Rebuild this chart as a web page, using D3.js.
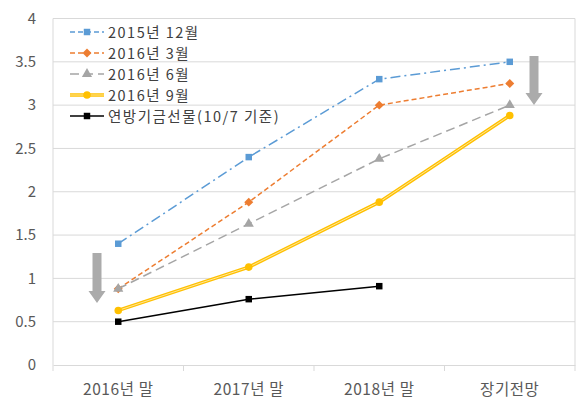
<!DOCTYPE html>
<html><head><meta charset="utf-8">
<script src="https://cdn.jsdelivr.net/npm/d3@7"></script>
<style>body{margin:0;background:#fff;} text{font-family:"Noto Sans CJK KR","Malgun Gothic",sans-serif;}</style>
</head><body><svg id="c" width="578" height="400"></svg>
<script>
const categories = ["2016년 말","2017년 말","2018년 말","장기전망"];
const seriesNames = ["2015년 12월","2016년 3월","2016년 6월","2016년 9월","연방기금선물(10/7 기준)"];
const s201512 = [1.4, 2.4, 3.3, 3.5];
const s201603 = [0.88, 1.88, 3.0, 3.25];
const s201606 = [0.88, 1.63, 2.38, 3.0];
const s201609 = [0.63, 1.13, 1.88, 2.88];
const sFutures = [0.5, 0.76, 0.91];
const yTicks = [0,0.5,1,1.5,2,2.5,3,3.5,4];

const svg = d3.select("#c");
const L=53, R=575, T=18.5, B=365;
const x = d3.scaleBand().domain(categories).range([L,R]);
const y = d3.scaleLinear().domain([0,4]).range([B,T]);
const cx = c => x(c)+x.bandwidth()/2;

// gridlines
svg.append("g").selectAll("line").data(yTicks.filter(d=>d>0)).join("line")
  .attr("x1",L).attr("x2",R).attr("y1",d=>y(d)).attr("y2",d=>y(d))
  .attr("stroke","#d9d9d9").attr("stroke-width",1);
svg.append("line").attr("x1",R).attr("x2",R).attr("y1",T).attr("y2",B).attr("stroke","#d9d9d9");
svg.append("line").attr("x1",L).attr("x2",L).attr("y1",T).attr("y2",B).attr("stroke","#d9d9d9");
// x axis
const xa = svg.append("g").attr("transform",`translate(0,${B})`)
  .call(d3.axisBottom(x).tickSize(0).tickPadding(19));
xa.select(".domain").attr("stroke","#d9d9d9");
xa.selectAll("text").attr("font-size",15.5).attr("fill","#595959").attr("letter-spacing","0.6px")
  .style("font-family",'"Noto Sans CJK KR",sans-serif');
svg.append("g").selectAll("line").data(d3.range(categories.length+1)).join("line")
  .attr("x1",i=>L+i*x.bandwidth()).attr("x2",i=>L+i*x.bandwidth())
  .attr("y1",B).attr("y2",B+6).attr("stroke","#d9d9d9");
// y axis
const ya = svg.append("g").attr("transform",`translate(${L},0)`)
  .call(d3.axisLeft(y).tickValues(yTicks).tickSize(0).tickPadding(17).tickFormat(d3.format("")));
ya.select(".domain").remove();
ya.selectAll("text").attr("font-size",15).attr("fill","#595959")
  .style("font-family",'"Noto Sans CJK KR",sans-serif');

const styles = [
  {data:s201512,color:"#5B9BD5",dash:"10,4,2,4",w:1.5,marker:"square"},
  {data:s201603,color:"#ED7D31",dash:"5,3",w:1.5,marker:"diamond"},
  {data:s201606,color:"#A5A5A5",dash:"9,5",w:1.5,marker:"triangle"},
  {data:s201609,color:"#FFC000",dash:null,w:3.5,marker:"circle",dbl:true},
  {data:sFutures,color:"#000000",dash:null,w:1.5,marker:"square"}
];
const symMap = {square:d3.symbolSquare,diamond:d3.symbolSquare,triangle:d3.symbolTriangle,circle:d3.symbolCircle};
const sizeMap = {square:42,diamond:40,triangle:45,circle:45};
const rotMap = {diamond:45};
const line = d3.line().x((d,i)=>cx(categories[i])).y(d=>y(d));

styles.forEach(s=>{
  const p = svg.append("path").datum(s.data).attr("d",line).attr("fill","none")
    .attr("stroke",s.color).attr("stroke-width",s.w);
  if(s.dash) p.attr("stroke-dasharray",s.dash);
  if(s.dbl) svg.append("path").datum(s.data).attr("d",line).attr("fill","none")
    .attr("stroke","#FFE699").attr("stroke-width",1);
  svg.append("g").selectAll("path").data(s.data).join("path")
    .attr("transform",(d,i)=>`translate(${cx(categories[i])},${y(d)}) rotate(${rotMap[s.marker]||0})`)
    .attr("d",d3.symbol().type(symMap[s.marker]).size(sizeMap[s.marker]))
    .attr("fill",s.color);
});

// legend
const lg = svg.append("g");
seriesNames.forEach((n,i)=>{
  const s = styles[i];
  const yy = 32 + i*21;
  const l = lg.append("line").attr("x1",70).attr("x2",104).attr("y1",yy).attr("y2",yy)
    .attr("stroke",s.color).attr("stroke-width",s.w);
  if(s.dash) l.attr("stroke-dasharray", i===0?"5,3,5,3":s.dash);
  if(s.dbl) lg.append("line").attr("x1",70).attr("x2",104).attr("y1",yy).attr("y2",yy).attr("stroke","#FFE699").attr("stroke-width",1);
  lg.append("path").attr("transform",`translate(87,${yy}) rotate(${rotMap[s.marker]||0})`)
    .attr("d",d3.symbol().type(symMap[s.marker]).size(sizeMap[s.marker]))
    .attr("fill",s.color);
  lg.append("text").attr("x",108).attr("y",yy+5.5).attr("font-size",14.5).attr("letter-spacing","1.5px")
    .attr("fill","#404040").text(n);
});

// gray arrows
function arrow(xc, y1, y2){
  const hw=8.5, sw=4.5, hh=12;
  const pts=[[xc-sw,y1],[xc+sw,y1],[xc+sw,y2-hh],[xc+hw,y2-hh],[xc,y2],[xc-hw,y2-hh],[xc-sw,y2-hh]];
  svg.append("polygon").attr("points",pts.map(p=>p.join(",")).join(" ")).attr("fill","#ABABAB");
}
arrow(97,253,303);
arrow(534,56,105);
</script></body></html>
